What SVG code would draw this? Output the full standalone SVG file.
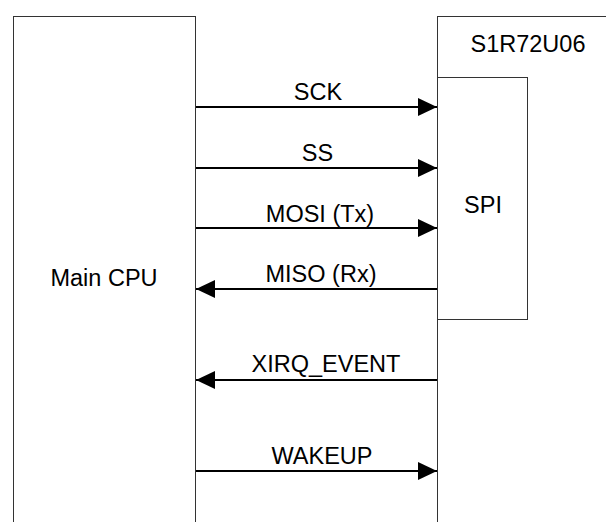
<svg xmlns="http://www.w3.org/2000/svg" width="606" height="522" viewBox="0 0 606 522">
<style>
  .box { fill: #ffffff; stroke: #333333; stroke-width: 1; }
  .lbl { font-family: "Liberation Sans", Arial, sans-serif; font-size: 23.5px; fill: #000000; text-anchor: middle; }
  .wire { stroke: #000000; stroke-width: 2; fill: none; marker-end: url(#arrow); }
</style>
<defs>
  <marker id="arrow" markerUnits="userSpaceOnUse" markerWidth="19" markerHeight="18" refX="19" refY="9" orient="auto">
    <path d="M0,0 L19,9 L0,18 Z" fill="#000000"/>
  </marker>
</defs>
<rect width="606" height="522" fill="#ffffff"/>
<g id="main-cpu">
  <rect class="box" x="13.5" y="16.5" width="182" height="520"/>
  <text class="lbl" x="104" y="286">Main CPU</text>
</g>
<g id="s1r72u06">
  <rect class="box" x="437.5" y="16.5" width="190" height="520"/>
  <text class="lbl" x="528" y="52">S1R72U06</text>
</g>
<g id="spi">
  <rect class="box" x="437.5" y="77.5" width="90" height="242"/>
  <text class="lbl" x="483" y="213">SPI</text>
</g>
<g id="connectors">
  <line class="wire" x1="196" y1="107" x2="437" y2="107"/>
  <text class="lbl" x="318" y="100">SCK</text>
  <line class="wire" x1="196" y1="168" x2="437" y2="168"/>
  <text class="lbl" x="317.5" y="161">SS</text>
  <line class="wire" x1="196" y1="228" x2="437" y2="228"/>
  <text class="lbl" x="320" y="221.5">MOSI (Tx)</text>
  <line class="wire" x1="437" y1="289" x2="196" y2="289"/>
  <text class="lbl" x="321" y="282">MISO (Rx)</text>
  <line class="wire" x1="437" y1="380" x2="196" y2="380"/>
  <text class="lbl" x="326" y="372">XIRQ_EVENT</text>
  <line class="wire" x1="196" y1="471" x2="437" y2="471"/>
  <text class="lbl" x="322" y="463.5">WAKEUP</text>
</g>
</svg>
